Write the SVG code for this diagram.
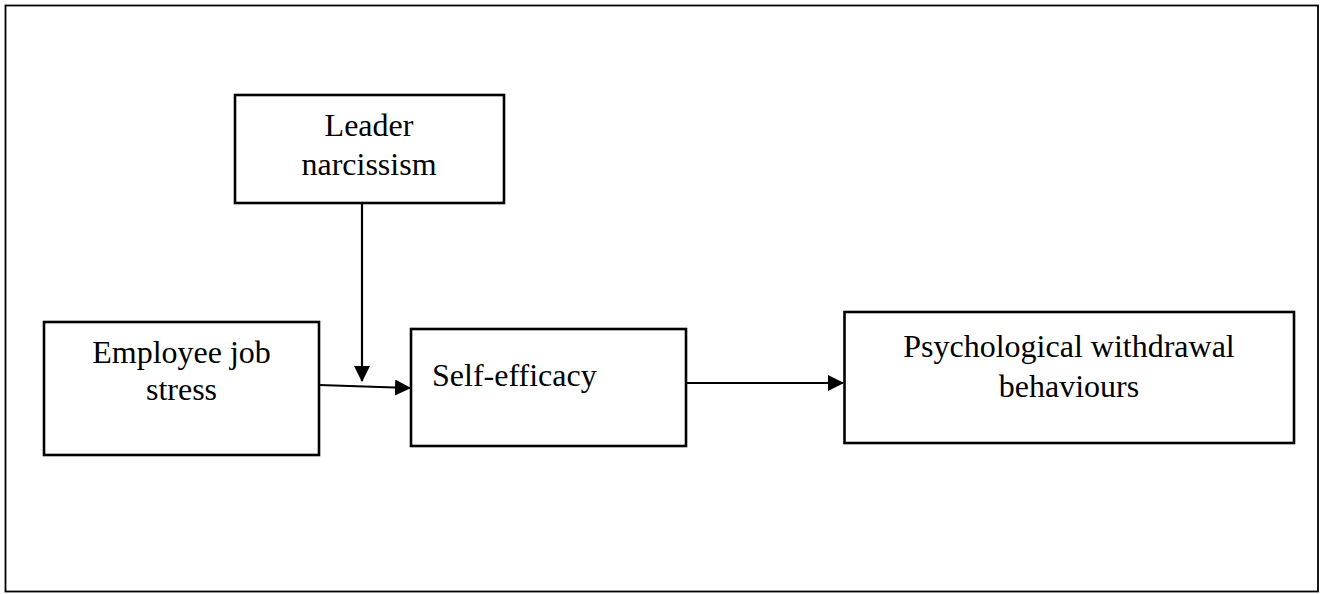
<svg xmlns="http://www.w3.org/2000/svg" width="1324" height="594" viewBox="0 0 1324 594">
<style>
.box{fill:#fff;stroke:#000;stroke-width:2.6}
.t{font-family:"Liberation Serif","Times New Roman",serif;font-size:32px;fill:#000}
.c{text-anchor:middle}
.ln{stroke:#000;stroke-width:2.2;fill:none}
</style>
<defs>
<marker id="ah" markerWidth="16" markerHeight="16" viewBox="0 0 16 16" refX="15" refY="8" orient="auto" markerUnits="userSpaceOnUse">
<path d="M0,0 L16,8 L0,16 Z" fill="#000"/>
</marker>
</defs>
<rect x="5.5" y="5.5" width="1312.5" height="586" fill="#fff" stroke="#000" stroke-width="1.8"/>
<g id="connectors">
<line class="ln" x1="362" y1="203" x2="362" y2="381" marker-end="url(#ah)"/>
<line class="ln" x1="319" y1="385" x2="410" y2="388" marker-end="url(#ah)"/>
<line class="ln" x1="686" y1="383" x2="843" y2="383" marker-end="url(#ah)"/>
</g>
<g id="leader">
<rect class="box" x="235" y="95" width="269" height="108"/>
<text class="t c" x="369" y="136">Leader</text>
<text class="t c" x="369" y="175">narcissism</text>
</g>
<g id="stress">
<rect class="box" x="44" y="322" width="275" height="133"/>
<text class="t c" x="181.5" y="363">Employee job</text>
<text class="t c" x="181.5" y="400">stress</text>
</g>
<g id="selfefficacy">
<rect class="box" x="411" y="329" width="275" height="117"/>
<text class="t" x="432" y="386">Self-efficacy</text>
</g>
<g id="withdrawal">
<rect class="box" x="844.5" y="312" width="449.5" height="131"/>
<text class="t c" x="1069" y="357">Psychological withdrawal</text>
<text class="t c" x="1069" y="397">behaviours</text>
</g>
</svg>
